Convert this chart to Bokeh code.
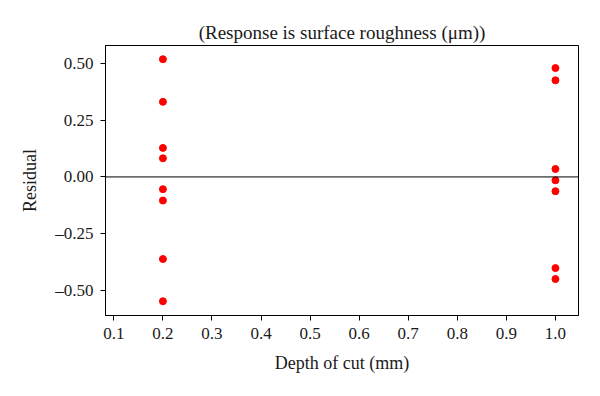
from bokeh.plotting import figure
from bokeh.models import Span, FixedTicker, Range1d
from bokeh.embed import file_html
from bokeh.resources import INLINE

# data
depth_a = [0.2, 0.2, 0.2, 0.2, 0.2, 0.2, 0.2, 0.2]
resid_a = [0.519, 0.331, 0.128, 0.082, -0.054, -0.104, -0.362, -0.548]
depth_b = [1.0, 1.0, 1.0, 1.0, 1.0, 1.0, 1.0]
resid_b = [0.480, 0.426, 0.035, -0.015, -0.063, -0.402, -0.450]

x_ticks = [0.1, 0.2, 0.3, 0.4, 0.5, 0.6, 0.7, 0.8, 0.9, 1.0]
x_tick_labels = ["0.1", "0.2", "0.3", "0.4", "0.5", "0.6", "0.7", "0.8", "0.9", "1.0"]
y_ticks = [0.5, 0.25, 0.0, -0.25, -0.5]
y_tick_labels = ["0.50", "0.25", "0.00", "\u20130.25", "\u20130.50"]

FONT = "Liberation Serif"

p = figure(width=584, height=380, output_backend="svg", toolbar_location=None,
           x_range=Range1d(0.083, 1.047), y_range=Range1d(-0.611, 0.5795),
           title="(Response is surface roughness (\u03bcm))",
           min_border_left=105, min_border_right=6, min_border_top=45, min_border_bottom=65)

p.title.align = "center"
p.title.text_font = FONT
p.title.text_font_size = "19px"
p.title.text_font_style = "normal"
p.title.text_color = "#1a1a1a"
p.title.standoff = 6

p.outline_line_color = "black"
p.outline_line_alpha = 1
p.outline_line_width = 1
p.xgrid.visible = False
p.ygrid.visible = False
p.background_fill_color = "white"
p.border_fill_color = "white"

for ax in (p.xaxis, p.yaxis):
    ax.axis_line_color = "black"
    ax.major_tick_line_color = "black"
    ax.major_tick_out = 5
    ax.major_tick_in = 0
    ax.minor_tick_line_color = None
    ax.major_label_text_font = FONT
    ax.major_label_text_font_size = "17px"
    ax.major_label_text_color = "#1a1a1a"
    ax.axis_label_text_font = FONT
    ax.axis_label_text_font_size = "18px"
    ax.axis_label_text_font_style = "normal"
    ax.axis_label_text_color = "#1a1a1a"

p.xaxis.ticker = FixedTicker(ticks=x_ticks)
p.xaxis.major_label_overrides = dict(zip(x_ticks, x_tick_labels))
p.yaxis.ticker = FixedTicker(ticks=y_ticks)
p.yaxis.major_label_overrides = dict(zip(y_ticks, y_tick_labels))
p.xaxis.axis_label = "Depth of cut (mm)"
p.yaxis.axis_label = "Residual"
p.xaxis.major_label_standoff = 7
p.yaxis.major_label_standoff = 7
p.xaxis.axis_label_standoff = 11
p.yaxis.axis_label_standoff = 12

p.add_layout(Span(location=0, dimension="width", line_color="black", line_width=1))

p.scatter(depth_a, resid_a, size=7, color="#ff0000")
p.scatter(depth_b, resid_b, size=7, color="#ff0000")

open("out.html", "w").write(file_html(p, INLINE))
